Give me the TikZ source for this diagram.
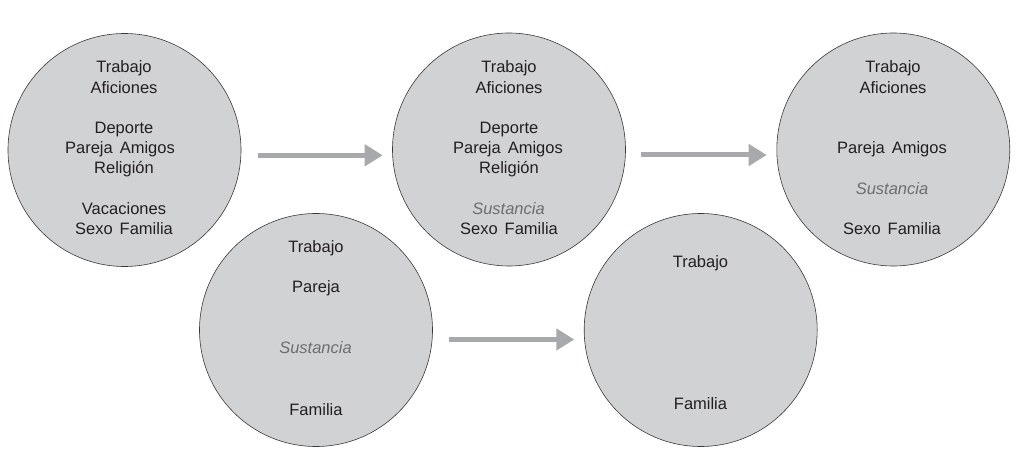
\documentclass[tikz,border=0pt]{standalone}
\usepackage{fontspec}
\setmainfont{Liberation Sans}
\usetikzlibrary{arrows.meta}
\definecolor{circfill}{HTML}{D1D2D4}
\definecolor{circline}{HTML}{3A3A3C}
\definecolor{txt}{HTML}{231F20}
\definecolor{subst}{HTML}{6D6E71}
\definecolor{arrowgray}{HTML}{A7A9AC}
\tikzset{
  bubble/.style={circle, fill=circfill, draw=circline, line width=0.6pt, minimum size=233pt, inner sep=0pt},
  word/.style={anchor=base, inner sep=0pt, text=txt, font=\fontsize{16.5}{20}\selectfont},
  subs/.style={word, text=subst, font=\fontsize{16.5}{20}\selectfont\itshape},
  flow/.style={draw=arrowgray, line width=5pt, -{Triangle[length=18pt,width=21pt]}}
}
\begin{document}
\begin{tikzpicture}[x=1pt,y=-1pt]
\useasboundingbox (0,0) rectangle (1023,454);
% circles
\node[bubble] (c1) at (124.5,150) {};
\node[bubble] (c2) at (509,149.5) {};
\node[bubble] (c3) at (893.3,149.5) {};
\node[bubble] (c4) at (316,330) {};
\node[bubble] (c5) at (700.7,330) {};
% circle 1
\node[word] (a1) at (124,73) {Trabajo};
\node[word] (a2) at (124,93.5) {Aficiones};
\node[word] (a3) at (124,134) {Deporte};
\node[word] (a4) at (120,154) {Pareja\hspace{7pt}Amigos};
\node[word] (a5) at (124,174) {Religión};
\node[word] (a6) at (124,214.5) {Vacaciones};
\node[word] (a7) at (124,235) {Sexo\hspace{7pt}Familia};
% circle 2
\node[word] (b1) at (509,73) {Trabajo};
\node[word] (b2) at (509,93.5) {Aficiones};
\node[word] (b3) at (509,134) {Deporte};
\node[word] (b4) at (508,154) {Pareja\hspace{7pt}Amigos};
\node[word] (b5) at (509,174) {Religión};
\node[subs] (b6) at (508.5,214.5) {Sustancia};
\node[word] (b7) at (509,235) {Sexo\hspace{7pt}Familia};
% circle 3
\node[word] (d1) at (893,73) {Trabajo};
\node[word] (d2) at (893,93.5) {Aficiones};
\node[word] (d3) at (892,154) {Pareja\hspace{7pt}Amigos};
\node[subs] (d4) at (892,195) {Sustancia};
\node[word] (d5) at (892,235) {Sexo\hspace{7pt}Familia};
% circle 4
\node[word] (e1) at (316,253) {Trabajo};
\node[word] (e2) at (316,293) {Pareja};
\node[subs] (e3) at (315.5,354) {Sustancia};
\node[word] (e4) at (316,415) {Familia};
% circle 5
\node[word] (f1) at (700.5,268) {Trabajo};
\node[word] (f2) at (700.5,409) {Familia};
% arrows
\coordinate (s1) at (257.5,155.3);
\coordinate (t1) at (382.7,155.3);
\coordinate (s2) at (641,155);
\coordinate (t2) at (766.7,155);
\coordinate (s3) at (449,339.5);
\coordinate (t3) at (574.3,339.5);
\draw[flow] (s1) -- (t1);
\draw[flow] (s2) -- (t2);
\draw[flow] (s3) -- (t3);
\end{tikzpicture}
\end{document}
